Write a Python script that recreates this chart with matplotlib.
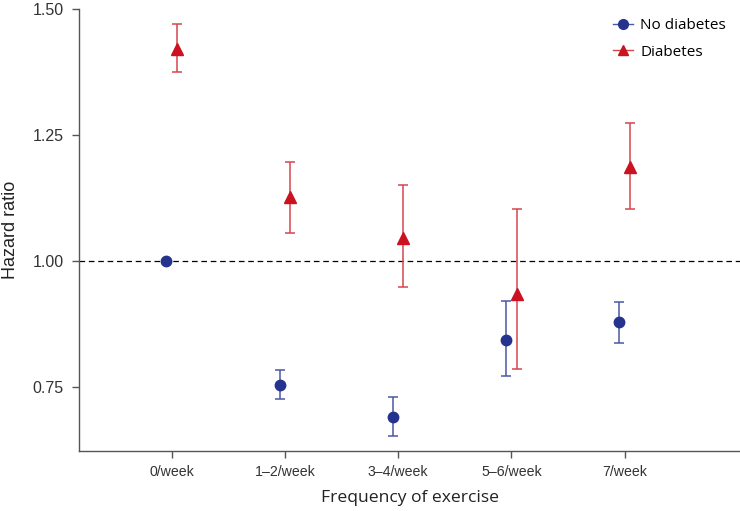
import matplotlib
matplotlib.use("Agg")
import matplotlib.pyplot as plt
import numpy as np
from matplotlib.lines import Line2D

# Data
categories = ["0/week", "1\u20132/week", "3\u20134/week", "5\u20136/week", "7/week"]
no_diab_hr = [1.00, 0.755, 0.692, 0.844, 0.880]
no_diab_lo = [1.00, 0.728, 0.654, 0.772, 0.839]
no_diab_hi = [1.00, 0.784, 0.731, 0.921, 0.920]
diab_hr = [1.421, 1.128, 1.047, 0.935, 1.186]
diab_lo = [1.375, 1.057, 0.949, 0.786, 1.104]
diab_hi = [1.470, 1.197, 1.151, 1.104, 1.275]

blue = "#25338f"
blue_err = "#4a58a6"
red = "#cc1220"
red_err = "#d5474d"
axis_grey = "#555555"

x = np.arange(len(categories))
off = 0.047

fig = plt.figure(figsize=(7.4, 5.11), dpi=100)
ax = fig.add_axes([0.1068, 0.1174, 0.8932, 0.865])

# reference line at HR = 1
ax.axhline(1.0, color="black", linestyle=(0, (4.5, 3)), linewidth=0.9, zorder=1)

nd = np.array(no_diab_hr)
d = np.array(diab_hr)
nd_err = [nd - np.array(no_diab_lo), np.array(no_diab_hi) - nd]
d_err = [d - np.array(diab_lo), np.array(diab_hi) - d]

ax.errorbar(x - off, nd, yerr=nd_err, fmt="o", color=blue, ecolor=blue_err,
            markersize=7.5, elinewidth=1.1, capsize=3.4, capthick=1.1, zorder=3)
ax.errorbar(x + off, d, yerr=d_err, fmt="^", color=red, ecolor=red_err,
            markersize=8, elinewidth=1.1, capsize=3.4, capthick=1.1, zorder=3)

ax.set_xlim(-0.819, 5.02)
ax.set_ylim(0.624, 1.50)
ax.set_xticks(x)
ax.set_xticklabels(categories)
ax.set_yticks([0.75, 1.00, 1.25, 1.50])
ax.set_yticklabels(["0.75", "1.00", "1.25", "1.50"])

for s in ["top", "right"]:
    ax.spines[s].set_visible(False)
for s in ["left", "bottom"]:
    ax.spines[s].set_color(axis_grey)
    ax.spines[s].set_linewidth(1.0)

ax.tick_params(axis="both", direction="out", length=5, width=1.0, color=axis_grey,
               labelcolor="#333333")
ax.tick_params(axis="x", pad=5, labelsize=10.2)
ax.tick_params(axis="y", pad=6, labelsize=11.5)
for lab in ax.get_xticklabels() + ax.get_yticklabels():
    lab.set_family("Liberation Sans")

ax.set_xlabel("Frequency of exercise", fontsize=12.6, family="Open Sans",
              color="#222222", labelpad=8)
ax.set_ylabel("Hazard ratio", fontsize=13, family="Liberation Sans",
              color="#222222", labelpad=10)

handles = [
    Line2D([], [], color=blue_err, marker="o", markerfacecolor=blue,
           markeredgecolor=blue, markersize=7, linewidth=1),
    Line2D([], [], color=red_err, marker="^", markerfacecolor=red,
           markeredgecolor=red, markersize=7.5, linewidth=1),
]
ax.legend(handles, ["No diabetes", "Diabetes"], loc="upper right",
          bbox_to_anchor=(1.0, 1.01), frameon=False, handlelength=1.3,
          handletextpad=0.5, labelspacing=0.75,
          prop={"family": "Open Sans", "size": 11})

fig.savefig("out.png", dpi=100)
